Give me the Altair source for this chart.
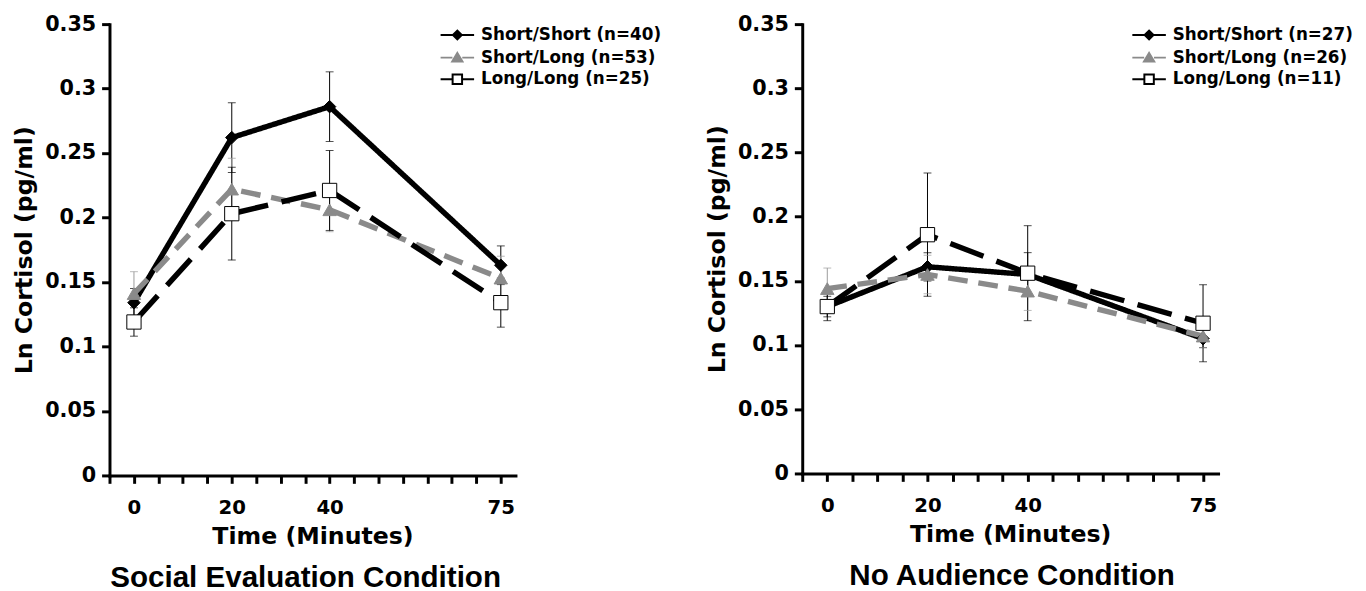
import altair as alt
import pandas as pd

# ---------------- data ----------------
times = [0, 20, 40, 75]
groups = ["Short/Short", "Short/Long", "Long/Long"]

# Social Evaluation Condition
se_n = [40, 53, 25]
se_short_short = [0.134, 0.262, 0.286, 0.163]
se_short_short_err = [0.011, 0.027, 0.027, 0.015]
se_short_long = [0.141, 0.222, 0.206, 0.153]
se_short_long_err = [0.017, 0.024, 0.017, 0.017]
se_long_long = [0.119, 0.203, 0.221, 0.134]
se_long_long_err = [0.011, 0.036, 0.031, 0.019]

# No Audience Condition
na_n = [27, 26, 11]
na_short_short = [0.130, 0.161, 0.155, 0.105]
na_short_short_err = [0.008, 0.011, 0.017, 0.007]
na_short_long = [0.144, 0.155, 0.142, 0.107]
na_short_long_err = [0.016, 0.015, 0.015, 0.009]
na_long_long = [0.130, 0.186, 0.156, 0.117]
na_long_long_err = [0.011, 0.048, 0.037, 0.030]

y_ticks = [0, 0.05, 0.1, 0.15, 0.2, 0.25, 0.3, 0.35]
x_ticks = [-5, 0, 5, 10, 15, 20, 25, 30, 35, 40, 45, 50, 55, 60, 65, 70, 75]
x_labels = [0, 20, 40, 75]

titles = ["Social Evaluation Condition", "No Audience Condition"]

# ---------------- styling ----------------
FONT = "DejaVu Sans"
BLACK = "#000000"
GRAY = "#8a8a8a"
ERR_GRAY = "#9a9a9a"

line_colors = [BLACK, GRAY, BLACK]
err_colors = [BLACK, ERR_GRAY, BLACK]
fill_colors = [BLACK, GRAY, "#ffffff"]
dashes = [[1, 0], [20, 11], [36, 14]]
shapes = ["diamond", "triangle-up", "square"]
sizes = [160, 210, 230]
legend_paths = [
    "M-1,0L2.4,0M0.25,0L0.7,-0.45L1.15,0L0.7,0.45Z",
    "M-1,0L0.2,0M1.2,0L2.4,0M0.7,-0.48L1.22,0.4L0.18,0.4Z",
    "M-1,0L0.22,0M1.18,0L2.4,0M0.22,-0.48L1.18,-0.48L1.18,0.48L0.22,0.48Z",
]


def make_df(n_list, means, errs):
    rows = []
    for g, n, m_list, e_list in zip(groups, n_list, means, errs):
        label = f"{g} (n={n})"
        for t, m, e in zip(times, m_list, e_list):
            rows.append(dict(group=g, label=label, time=t, mean=m,
                             lo=m - e, hi=m + e))
    return pd.DataFrame(rows)


def panel(df, labels, title, w, h, legend_x, legend_y, title_dx):
    xscale = alt.Scale(domain=[-5, 78], nice=False, zero=False)
    yscale = alt.Scale(domain=[0, 0.35], nice=False, zero=True)
    xaxis = alt.Axis(
        values=x_ticks, format="d",
        labelExpr="indexof([0,20,40,75], datum.value) >= 0 ? datum.label : ''",
        title="Time (Minutes)", grid=False,
        domainWidth=3, domainColor=BLACK, tickWidth=3, tickColor=BLACK,
        tickSize=8, labelPadding=15, titlePadding=7,
        labelFont=FONT, titleFont=FONT, labelFontSize=20, titleFontSize=24,
        labelFontWeight="bold", titleFontWeight="bold",
        labelColor=BLACK, titleColor=BLACK, labelFlush=False,
        labelOverlap=False, domainCap="square",
    )
    yaxis = alt.Axis(
        values=y_ticks, format="~g", title="Ln Cortisol (pg/ml)", grid=False,
        domainWidth=3, domainColor=BLACK, tickWidth=3, tickColor=BLACK,
        tickSize=8, labelPadding=6, titlePadding=8,
        labelFont=FONT, titleFont=FONT, labelFontSize=21, titleFontSize=24,
        labelFontWeight="bold", titleFontWeight="bold",
        labelColor=BLACK, titleColor=BLACK, labelFlush=False,
        labelOverlap=False, domainCap="square",
    )
    X = alt.X("time:Q", scale=xscale, axis=xaxis)

    def Y(field):
        return alt.Y(f"{field}:Q", scale=yscale, axis=yaxis,
                     title="Ln Cortisol (pg/ml)")

    base = alt.Chart(df)
    err_color = alt.Color("label:N", scale=alt.Scale(domain=labels, range=err_colors), legend=None)

    rules = base.mark_rule(strokeWidth=1).encode(
        x=X, y=Y("lo"), y2="hi:Q", color=err_color)
    cap_lo = base.mark_tick(orient="horizontal", size=8, thickness=1).encode(
        x=X, y=Y("lo"), color=err_color)
    cap_hi = base.mark_tick(orient="horizontal", size=8, thickness=1).encode(
        x=X, y=Y("hi"), color=err_color)

    lines = base.mark_line(strokeWidth=5.5).encode(
        x=X, y=Y("mean"),
        stroke=alt.Stroke("label:N", scale=alt.Scale(domain=labels, range=line_colors), legend=None),
        strokeDash=alt.StrokeDash("label:N", scale=alt.Scale(domain=labels, range=dashes), legend=None),
        order="time:Q",
    )
    points = base.mark_point(filled=True, opacity=1, strokeWidth=1).encode(
        x=X, y=Y("mean"),
        shape=alt.Shape("label:N", scale=alt.Scale(domain=labels, range=shapes), legend=None),
        fill=alt.Fill("label:N", scale=alt.Scale(domain=labels, range=fill_colors), legend=None),
        stroke=alt.Stroke("label:N", scale=alt.Scale(domain=labels, range=line_colors), legend=None),
        size=alt.Size("label:N", scale=alt.Scale(domain=labels, range=sizes), legend=None),
    )

    leg = alt.Legend(
        title=None, orient="none", legendX=legend_x, legendY=legend_y,
        symbolSize=400, symbolStrokeWidth=2, symbolOpacity=1,
        labelFont=FONT, labelFontWeight="bold", labelFontSize=17,
        labelColor=BLACK, labelOffset=20, rowPadding=3, padding=0,
        labelLimit=400,
    )
    carrier = base.transform_filter("false").mark_point(filled=True, opacity=1, strokeWidth=2).encode(
        shape=alt.Shape("label:N", scale=alt.Scale(domain=labels, range=legend_paths), legend=leg),
        fill=alt.Fill("label:N", scale=alt.Scale(domain=labels, range=fill_colors), legend=leg),
        stroke=alt.Stroke("label:N", scale=alt.Scale(domain=labels, range=line_colors), legend=leg),
    )

    return alt.layer(rules, cap_lo, cap_hi, lines, points, carrier).resolve_scale(
        shape="independent", fill="independent", stroke="independent",
    ).properties(
        width=w, height=h,
        title=alt.TitleParams(text=title, orient="bottom", anchor="middle",
                              font="Liberation Sans", fontSize=30,
                              fontWeight="bold", color=BLACK, offset=15,
                              dx=title_dx),
    )


se_df = make_df(se_n, [se_short_short, se_short_long, se_long_long],
                [se_short_short_err, se_short_long_err, se_long_long_err])
na_df = make_df(na_n, [na_short_short, na_short_long, na_long_long],
                [na_short_short_err, na_short_long_err, na_long_long_err])
se_labels = [f"{g} (n={n})" for g, n in zip(groups, se_n)]
na_labels = [f"{g} (n={n})" for g, n in zip(groups, na_n)]

left = panel(se_df, se_labels, titles[0], 412, 458, 335, 0, -7)
right = panel(na_df, na_labels, titles[1], 422, 456, 334, 0, 2)

chart = alt.hconcat(left, right, spacing=45).resolve_scale(
    color="independent", shape="independent", fill="independent",
    stroke="independent", strokeDash="independent", size="independent",
).resolve_legend(
    color="independent", shape="independent", fill="independent",
    stroke="independent", strokeDash="independent", size="independent",
).configure_view(stroke=None).properties(
    padding={"left": 5, "top": 1, "right": 5, "bottom": 0},
    background="white",
)

chart.save("out.html", embed_options={"renderer": "svg", "actions": False})
